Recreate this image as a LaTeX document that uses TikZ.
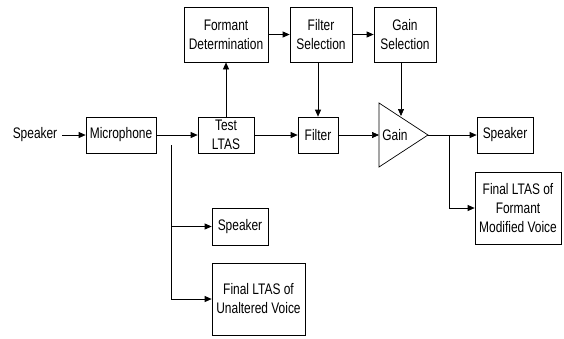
\documentclass[tikz,border=0pt]{standalone}
\usepackage{fontspec}
\setmainfont{Liberation Sans}[FakeStretch=0.78]
\usepackage{tikz}
\usetikzlibrary{arrows.meta}
\tikzstyle{block}=[draw,line width=0.7pt,inner sep=1pt,align=center,font=\fontsize{15.3}{19}\selectfont]
\tikzstyle{plain}=[inner sep=1pt,font=\fontsize{15.3}{19}\selectfont]
\tikzstyle{sig}=[line width=0.7pt,-{Triangle[length=7pt,width=6pt]}]
\newcommand{\pxunit}{1pt}

\begin{document}
\begin{tikzpicture}[x=\pxunit,y=-\pxunit]
    \useasboundingbox (0,0) rectangle (564,338);
    \node[plain] (SpkIn) at (35,135) {Speaker};
    \node[block,minimum width=70pt,minimum height=36pt] (Mic) at (121,135) {Microphone};
    \node[block,minimum width=56pt,minimum height=36pt] (LTAS) at (226,135) {Test\\LTAS};
    \node[block,minimum width=84pt,minimum height=55pt] (FD) at (226,34.5) {Formant\\Determination};
    \node[block,minimum width=62pt,minimum height=55pt] (FS) at (321,34.5) {Filter\\Selection};
    \node[block,minimum width=62pt,minimum height=55pt] (GS) at (405,34.5) {Gain\\Selection};
    \node[block,minimum width=40pt,minimum height=36pt] (Filt) at (318,135) {Filter};
    % gain stage
    \coordinate (GIn) at (379,135);
    \coordinate (GOut) at (428,135);
    \coordinate (GTop) at (401,116);
    \draw[line width=0.7pt] (379,103) -- (GOut) -- (379,167) -- cycle;
    \node[plain] (Gain) at (395,135) {Gain};
    \node[block,minimum width=56pt,minimum height=36pt] (SpkA) at (505,135) {Speaker};
    \node[block,minimum width=86pt,minimum height=72pt] (FinA) at (518,208) {Final LTAS of\\Formant\\Modified Voice};
    \node[block,minimum width=56pt,minimum height=37pt] (SpkB) at (240,226.5) {Speaker};
    \node[block,minimum width=93pt,minimum height=72pt] (FinB) at (258.5,299) {Final LTAS of\\Unaltered Voice};
    \coordinate (BrA) at (171,145);
    \coordinate (BrB) at (449,135);
    % connectors
    \draw[sig] (SpkIn.east) ++(4,0) -- (Mic.west);
    \draw[sig] (Mic) -- (LTAS);
    \draw[sig] (LTAS) -- (FD);
    \draw[sig] (FD) -- (FS);
    \draw[sig] (FS) -- (GS);
    \draw[sig] (FS.south -| Filt) -- (Filt);
    \draw[sig] (LTAS) -- (Filt);
    \draw[sig] (Filt) -- (GIn);
    \draw[sig] (GS.south -| GTop) -- (GTop);
    \draw[sig] (GOut) -- (SpkA);
    \draw[sig] (BrB) |- (FinA.west);
    \draw[sig] (BrA) |- (SpkB.west);
    \draw[sig] (BrA) |- (FinB.west);
\end{tikzpicture}
\end{document}
